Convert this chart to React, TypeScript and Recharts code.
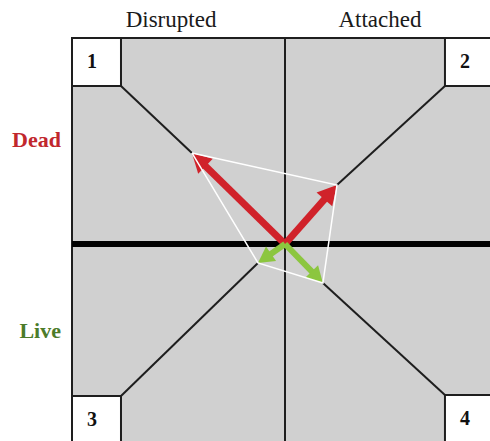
import { ReferenceArea, ReferenceLine, Scatter, ScatterChart, XAxis, YAxis } from 'recharts'

// axis units: the framed square spans -1..1 both ways, origin at the centre
const columnLabels = ['Disrupted', 'Attached']
const columnTicks = [-0.535, 0.446]
const rowLabels = ['Dead', 'Live']
const rowTicks = [0.505, -0.422]
const rowColors = ['#c1272d', '#4d7c2a']

// corner boxes 1..4
const cornerIds = ['1', '2', '3', '4']
const cornerX1 = [-1, 0.751, -1, 0.751]
const cornerX2 = [-0.77, 1, -0.77, 1]
const cornerY1 = [0.767, 0.767, -1, -1]
const cornerY2 = [1, 1, -0.738, -0.733]

// vector tips for quadrants 1..4
const tipX = [-0.437, 0.244, -0.127, 0.178]
const tipY = [0.442, 0.286, -0.092, -0.189]
const hullOrder = [0, 1, 3, 2, 0]

const RED = '#d0222a'
const GREEN = '#8cc63f'
const INK = '#1e1e1e'
const FONT = 'Times New Roman, Times, Liberation Serif, Tinos, Noto Serif, DejaVu Serif, serif'

const hull = hullOrder.map((i) => ({ x: tipX[i], y: tipY[i] }))

function arrowShape(color: string, head: number, width: number) {
  return (p: any) => {
    const { x1, y1, x2, y2 } = p
    const dx = x2 - x1
    const dy = y2 - y1
    const len = Math.hypot(dx, dy) || 1
    const ux = dx / len
    const uy = dy / len
    const bx = x2 - ux * head
    const by = y2 - uy * head
    const hw = head * 0.55
    return (
      <g>
        <line x1={x1} y1={y1} x2={bx + ux * 2} y2={by + uy * 2} stroke={color} strokeWidth={width} />
        <polygon
          points={`${x2},${y2} ${bx - uy * hw},${by + ux * hw} ${bx + uy * hw},${by - ux * hw}`}
          fill={color}
        />
      </g>
    )
  }
}

function cornerLabel(text: string) {
  return (props: any) => {
    const vb = props.viewBox || {}
    return (
      <text x={vb.x + 20} y={vb.y + 30} textAnchor="middle" fontFamily={FONT} fontWeight="bold" fontSize={20} fill="#111">
        {text}
      </text>
    )
  }
}

function ColumnTick(props: any) {
  const i = columnTicks.indexOf(props.payload.value)
  return (
    <text x={props.x} y={27} textAnchor="middle" fontFamily={FONT} fontSize={23} fill="#1a1a1a">
      {columnLabels[i]}
    </text>
  )
}

function RowTick(props: any) {
  const i = rowTicks.indexOf(props.payload.value)
  return (
    <text x={61} y={props.y} dy="0.33em" textAnchor="end" fontFamily={FONT} fontWeight="bold" fontSize={22} fill={rowColors[i]}>
      {rowLabels[i]}
    </text>
  )
}

export default function App() {
  return (
    <div style={{ position: 'absolute', left: 0, top: 0, width: 490, height: 441, overflow: 'hidden', background: '#fff' }}>
      <ScatterChart width={500} height={460} margin={{ top: 0, right: 2, bottom: 10, left: 0 }}>
        <XAxis
          type="number"
          dataKey="x"
          domain={[-1, 1]}
          allowDataOverflow
          orientation="top"
          height={38}
          ticks={columnTicks}
          interval={0}
          tick={<ColumnTick />}
          axisLine={false}
          tickLine={false}
        />
        <YAxis
          type="number"
          dataKey="y"
          domain={[-1, 1]}
          allowDataOverflow
          width={72}
          ticks={rowTicks}
          interval={0}
          tick={<RowTick />}
          axisLine={false}
          tickLine={false}
        />
        <ReferenceArea x1={-1} x2={1} y1={-1} y2={1} fill="#d0d0d0" fillOpacity={1} stroke={INK} strokeWidth={2} />
        {cornerIds.map((id, i) => (
          <ReferenceArea
            key={id}
            x1={cornerX1[i]}
            x2={cornerX2[i]}
            y1={cornerY1[i]}
            y2={cornerY2[i]}
            fill="#ffffff"
            fillOpacity={1}
            stroke={INK}
            strokeWidth={2}
            label={cornerLabel(id)}
          />
        ))}
        <ReferenceLine x={0} stroke={INK} strokeWidth={2} />
        {cornerIds.map((id, i) => (
          <ReferenceLine
            key={'d' + id}
            segment={[
              { x: i % 2 === 0 ? cornerX2[i] : cornerX1[i], y: i < 2 ? cornerY1[i] : cornerY2[i] },
              { x: tipX[i], y: tipY[i] },
            ]}
            stroke={INK}
            strokeWidth={2}
          />
        ))}
        <ReferenceLine y={0} stroke="#000" strokeWidth={6} />
        <Scatter data={hull} shape={() => <g />} line={{ stroke: '#ffffff', strokeWidth: 1.5 }} isAnimationActive={false} />
        {cornerIds.map((id, i) => (
          <ReferenceLine
            key={'a' + id}
            segment={[
              { x: 0, y: 0 },
              { x: tipX[i], y: tipY[i] },
            ]}
            shape={i < 2 ? arrowShape(RED, 19, 7) : arrowShape(GREEN, 16, 6)}
          />
        ))}
      </ScatterChart>
    </div>
  )
}
